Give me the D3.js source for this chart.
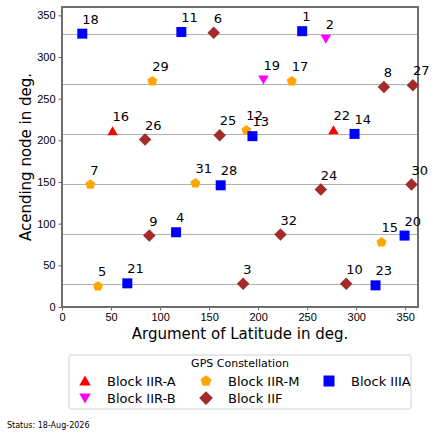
<!DOCTYPE html>
<html>
<head>
<meta charset="utf-8">
<script src="https://cdn.jsdelivr.net/npm/d3@7"></script>
<style>
  body { margin: 0; background: #fff; }
  svg { font-family: "DejaVu Sans", sans-serif; }
</style>
</head>
<body>
<div id="chart"></div>
<script>
// GPS satellites: PRN, argument of latitude, ascending node, block
const prn   = [1, 2, 3, 4, 5, 6, 7, 8, 9, 10, 11, 12, 13, 14, 15, 16,
               17, 18, 19, 20, 21, 22, 23, 24, 25, 26, 27, 28, 29, 30, 31, 32];
const argLat = [244.9, 269, 184.7, 116.3, 36.7, 154.7, 28.9, 328.2, 89, 289.8, 121.7, 188, 194.2, 298.3, 325.8, 51.6,
                234.3, 20.7, 205.4, 349.3, 66.6, 276.8, 319.7, 263.9, 160.8, 84.7, 357.8, 161.8, 92.1, 356.4, 136, 222.8];
const raan   = [331, 322, 28, 89.7, 24.8, 329, 147, 264, 85.7, 28, 330, 212, 205, 207.7, 77.7, 211,
                271, 328, 273, 85.7, 28.4, 212, 26, 141, 206, 201, 266, 146, 271, 147, 148.5, 86.9];
const block  = ["IIIA", "IIR-B", "IIF", "IIIA", "IIR-M", "IIF", "IIR-M", "IIF", "IIF", "IIF", "IIIA", "IIR-M", "IIIA", "IIIA", "IIR-M", "IIR-A",
                "IIR-M", "IIIA", "IIR-B", "IIIA", "IIIA", "IIR-A", "IIIA", "IIF", "IIF", "IIF", "IIF", "IIIA", "IIR-M", "IIF", "IIR-M", "IIF"];

// orbital plane reference lines
const planes = [27, 87, 147, 207, 267, 327];
const xTicks = [0, 50, 100, 150, 200, 250, 300, 350];
const yTicks = [0, 50, 100, 150, 200, 250, 300, 350];

const blocks = ["IIR-A", "IIR-B", "IIR-M", "IIF", "IIIA"];
const blockColors = ["#ff0000", "#ff00ff", "#ffa500", "#a52a2a", "#0000ff"];
const blockShapes = ["triUp", "triDown", "pentagon", "diamond", "square"];

const W = 435, H = 437;
const margin = {top: 7, right: 17, bottom: 130, left: 62};
const width = W - margin.left - margin.right;
const height = H - margin.top - margin.bottom;

const svg = d3.select("#chart").append("svg")
    .attr("width", W)
    .attr("height", H);

const g = svg.append("g")
    .attr("transform", `translate(${margin.left},${margin.top})`);

const x = d3.scaleLinear().domain([0, 363]).range([0, width]);
const y = d3.scaleLinear().domain([0, 360]).range([height, 0]);

function shapePath(type, s) {
    const r = s / 2;
    if (type === "square") return `M${-r},${-r}H${r}V${r}H${-r}Z`;
    if (type === "diamond") { const d = r * 1.25; return `M0,${-d}L${d},0L0,${d}L${-d},0Z`; }
    if (type === "triUp") return `M0,${-r}L${r * 1.05},${r * 0.8}L${-r * 1.05},${r * 0.8}Z`;
    if (type === "triDown") return `M0,${r}L${r * 1.05},${-r * 0.8}L${-r * 1.05},${-r * 0.8}Z`;
    // pentagon
    const pts = d3.range(5).map(i => {
        const a = -Math.PI / 2 + i * 2 * Math.PI / 5;
        return [Math.cos(a) * r * 1.05, Math.sin(a) * r * 1.05];
    });
    return "M" + pts.map(p => p.join(",")).join("L") + "Z";
}

// plane lines
g.selectAll(".plane")
    .data(planes)
    .join("line")
    .attr("x1", 0).attr("x2", width)
    .attr("y1", d => y(d)).attr("y2", d => y(d))
    .attr("stroke", "#b0b0b0")
    .attr("stroke-width", 1);

// axes
const xAxis = g.append("g")
    .attr("transform", `translate(0,${height})`)
    .call(d3.axisBottom(x).tickValues(xTicks).tickSize(3.5).tickPadding(3));
const yAxis = g.append("g")
    .call(d3.axisLeft(y).tickValues(yTicks).tickSize(3.5).tickPadding(3));

[xAxis, yAxis].forEach(a => {
    a.select(".domain").remove();
    a.selectAll(".tick line").attr("stroke", "#666");
    a.selectAll(".tick text").attr("fill", "#000").style("font-size", "11px");
});

// spines
g.append("rect")
    .attr("x", 0).attr("y", 0)
    .attr("width", width).attr("height", height)
    .attr("fill", "none")
    .attr("stroke", "#6e6e6e")
    .attr("stroke-width", 2);

// satellites
const sats = prn.map((p, i) => ({prn: p, u: argLat[i], node: raan[i], block: block[i]}));

g.selectAll(".sat")
    .data(sats)
    .join("path")
    .attr("transform", d => `translate(${x(d.u)},${y(d.node)})`)
    .attr("d", d => shapePath(blockShapes[blocks.indexOf(d.block)], 10))
    .attr("fill", d => blockColors[blocks.indexOf(d.block)]);

g.selectAll(".satlabel")
    .data(sats)
    .join("text")
    .attr("x", d => x(d.u))
    .attr("y", d => y(d.node) - 10)
    .style("font-size", "13px")
    .attr("fill", "#000")
    .text(d => d.prn);

// axis titles
svg.append("text")
    .attr("x", margin.left + width / 2)
    .attr("y", 339)
    .attr("text-anchor", "middle")
    .style("font-size", "15px")
    .text("Argument of Latitude in deg.");

svg.append("text")
    .attr("transform", `translate(31,${margin.top + height / 2}) rotate(-90)`)
    .attr("text-anchor", "middle")
    .style("font-size", "15px")
    .text("Acending node in deg.");

// legend
const legend = svg.append("g");
legend.append("rect")
    .attr("x", 69).attr("y", 355)
    .attr("width", 342).attr("height", 54)
    .attr("rx", 2)
    .attr("fill", "#fff")
    .attr("stroke", "#d0d0d0");

legend.append("text")
    .attr("x", 240).attr("y", 367)
    .attr("text-anchor", "middle")
    .style("font-size", "11px")
    .text("GPS Constellation");

const legCols = [85, 206, 329];
const legRows = [381, 398];
const legTextDx = 22;
blocks.forEach((b, i) => {
    const col = Math.floor(i / 2), row = i % 2;
    const lx = legCols[col], ly = legRows[row];
    legend.append("path")
        .attr("transform", `translate(${lx},${ly})`)
        .attr("d", shapePath(blockShapes[i], 11))
        .attr("fill", blockColors[i]);
    legend.append("text")
        .attr("x", lx + legTextDx).attr("y", ly + 5)
        .style("font-size", "13px")
        .text("Block " + b);
});

svg.append("text")
    .attr("x", 7).attr("y", 428)
    .style("font-size", "8px")
    .text("Status: 18-Aug-2026");
</script>
</body>
</html>
